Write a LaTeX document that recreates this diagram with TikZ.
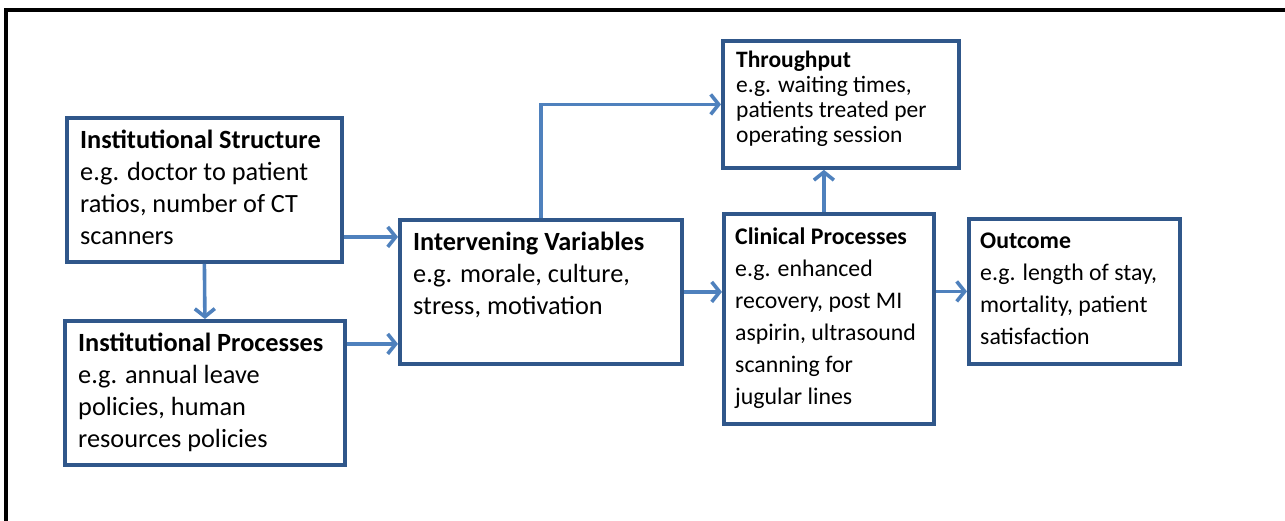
\documentclass[tikz,border=0pt]{standalone}
\usepackage{fontspec}
\setmainfont{Carlito}
\usetikzlibrary{arrows.meta,calc}
\definecolor{boxblue}{HTML}{30578A}
\definecolor{arrblue}{HTML}{4F81BD}
\tikzset{
  box/.style={draw=boxblue, line width=3.8pt, fill=white, anchor=north west, inner sep=0pt},
  txt/.style={anchor=base west, inner sep=0pt, font=\fontsize{26.3}{32}\selectfont},
  midtxt/.style={anchor=base west, inner sep=0pt, font=\fontsize{23.8}{32}\selectfont},
  smalltxt/.style={anchor=base west, inner sep=0pt, font=\fontsize{23.5}{25}\selectfont},
  arr/.style={draw=arrblue, line width=3.6pt, -{Straight Barb[length=8pt,width=20pt]}},
  frame/.style={draw=black, line width=3.6pt}
}
\begin{document}
\begin{tikzpicture}[x=1pt,y=-1pt]
\useasboundingbox (0,0) rectangle (1285,520);
\draw[frame] (6,530) -- (6,10) -- (1295,10);

\node[box, minimum width=275pt, minimum height=144pt] (is) at (65,116) {};
\node[box, minimum width=280pt, minimum height=144pt] (ip) at (63,319) {};
\node[box, minimum width=282pt, minimum height=144pt] (iv) at (398,218) {};
\node[box, minimum width=236pt, minimum height=127pt] (tp) at (721,39) {};
\node[box, minimum width=210pt, minimum height=210pt] (cp) at (722,212) {};
\node[box, minimum width=211pt, minimum height=145pt] (oc) at (967,217) {};

\node[txt] (ist) at ($(is.north west)+(15,32)$) {\parbox[t]{260pt}{\textbf{Institutional Structure}\\e.g. doctor to patient\\ratios, number of CT\\scanners}};
\node[txt] (ipt) at ($(ip.north west)+(15,32)$) {\parbox[t]{265pt}{\textbf{Institutional Processes}\\e.g. annual leave\\policies, human\\resources policies}};
\node[txt] (ivt) at ($(iv.north west)+(15,32)$) {\parbox[t]{265pt}{\textbf{Intervening Variables}\\e.g. morale, culture,\\stress, motivation}};
\node[smalltxt] (tpt) at ($(tp.north west)+(15,28)$) {\parbox[t]{220pt}{\textbf{Throughput}\\e.g. waiting times,\\patients treated per\\operating session}};
\node[midtxt] (cpt) at ($(cp.north west)+(13,32)$) {\parbox[t]{200pt}{\textbf{Clinical Processes}\\e.g. enhanced\\recovery, post MI\\aspirin, ultrasound\\scanning for\\jugular lines}};
\node[midtxt] (oct) at ($(oc.north west)+(13,31)$) {\parbox[t]{200pt}{\textbf{Outcome}\\e.g. length of stay,\\mortality, patient\\satisfaction}};

\draw[arr] (is.south) -- (ip.north);
\draw[arr] ([yshift=-47pt]is.east) -- ([yshift=-47pt]is.east -| iv.west);
\draw[arr] ([yshift=49pt]ip.east) -- ([yshift=49pt]ip.east -| iv.west);
\draw[arr] (iv.north) |- (tp.west);
\draw[arr] (iv.east) -- (iv.east -| cp.west);
\draw[arr] ([xshift=-5pt]cp.north) -- ([xshift=-5pt]cp.north |- tp.south);
\draw[arr] (oc.west -| cp.east) -- (oc.west);
\end{tikzpicture}
\end{document}
